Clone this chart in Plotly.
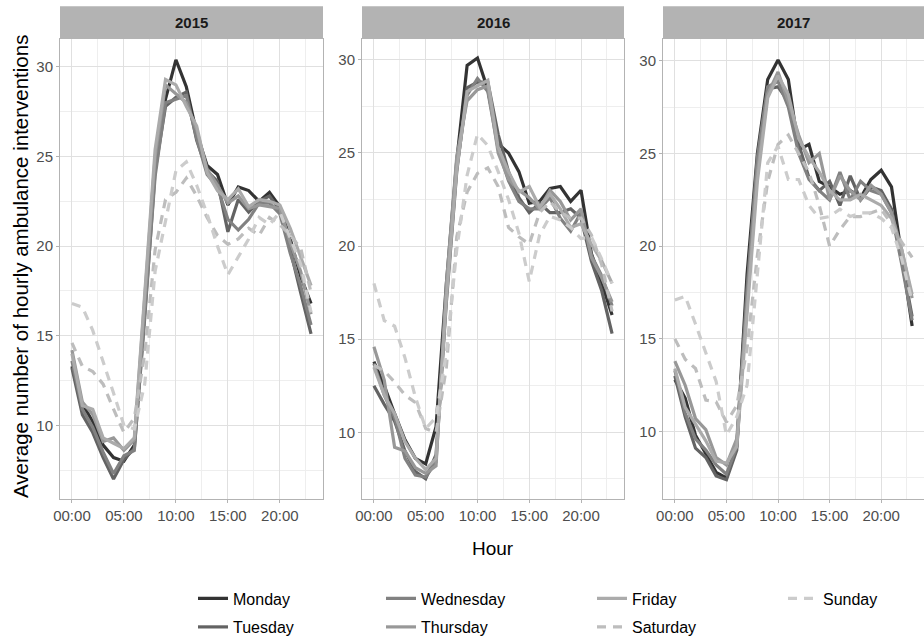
import plotly.graph_objects as go

# ---------------- data ----------------
hours = list(range(24))
hour_tick_vals = [0, 5, 10, 15, 20]
hour_tick_text = ["00:00", "05:00", "10:00", "15:00", "20:00"]
years = ["2015", "2016", "2017"]
days = ["Monday", "Tuesday", "Wednesday", "Thursday", "Friday", "Saturday", "Sunday"]

mon_2015 = [13.3, 11.2, 10.2, 8.9, 8.2, 8.0, 8.9, 16.5, 24.6, 28.2, 30.4, 28.9, 26.3, 24.5, 24.0, 22.3, 23.3, 23.1, 22.5, 23.0, 22.2, 20.4, 18.3, 16.8]
tue_2015 = [13.2, 10.6, 9.6, 8.2, 7.0, 8.1, 8.7, 16.0, 24.2, 27.8, 28.3, 28.6, 25.9, 24.2, 23.6, 20.8, 22.6, 21.9, 22.5, 22.8, 22.0, 19.8, 17.4, 15.1]
wed_2015 = [13.6, 10.9, 9.9, 8.5, 7.3, 8.3, 8.6, 16.2, 23.9, 28.0, 28.2, 28.4, 26.0, 24.0, 23.3, 21.5, 20.9, 21.5, 22.4, 22.4, 21.8, 19.6, 17.8, 15.6]
thu_2015 = [14.2, 11.3, 10.6, 9.1, 9.3, 8.6, 9.2, 17.0, 25.0, 29.0, 28.5, 28.0, 26.5, 24.3, 23.4, 22.4, 22.8, 22.1, 22.3, 22.2, 22.1, 20.2, 18.6, 16.2]
fri_2015 = [14.0, 11.1, 10.9, 9.3, 9.0, 8.7, 9.3, 17.4, 25.4, 29.3, 29.0, 27.8, 26.7, 24.1, 23.1, 22.6, 23.2, 22.2, 22.6, 22.5, 22.3, 21.0, 19.4, 17.8]
sat_2015 = [14.6, 13.3, 13.0, 12.3, 10.9, 9.6, 10.4, 14.0, 19.8, 22.6, 23.0, 23.8, 22.8, 21.6, 20.6, 20.1, 20.4, 21.0, 20.6, 21.6, 21.2, 20.6, 19.9, 17.4]
sun_2015 = [16.8, 16.6, 15.3, 13.6, 11.8, 10.0, 9.8, 12.3, 18.6, 21.4, 24.2, 24.7, 23.4, 21.8, 20.0, 18.4, 19.4, 20.4, 21.6, 21.2, 21.9, 20.5, 19.0, 16.3]

mon_2016 = [13.8, 12.5, 11.0, 9.6, 8.6, 8.3, 10.3, 18.0, 24.6, 29.7, 30.1, 28.4, 25.5, 25.0, 24.0, 22.3, 22.4, 23.1, 23.2, 22.4, 23.0, 19.6, 18.0, 16.3]
tue_2016 = [12.5, 11.5, 10.6, 9.0, 7.9, 7.5, 8.8, 17.0, 24.0, 28.5, 28.8, 28.8, 26.0, 24.0, 22.6, 21.8, 22.3, 21.8, 21.8, 22.0, 21.5, 19.2, 17.6, 15.3]
wed_2016 = [13.7, 12.0, 10.8, 8.6, 7.7, 7.6, 8.4, 17.4, 24.2, 28.1, 29.0, 28.3, 25.2, 23.5, 22.4, 22.0, 22.0, 22.6, 21.5, 20.8, 21.8, 19.5, 18.4, 16.8]
thu_2016 = [14.6, 12.8, 9.2, 9.0, 8.1, 7.8, 8.2, 18.0, 24.8, 27.8, 28.4, 28.6, 25.0, 23.6, 23.0, 22.6, 22.0, 23.0, 22.4, 21.4, 22.0, 19.4, 18.3, 17.0]
fri_2016 = [13.5, 12.0, 11.0, 9.5, 8.6, 8.0, 8.6, 17.2, 24.1, 28.3, 28.6, 28.9, 25.3, 24.0, 22.9, 23.2, 22.1, 22.8, 22.0, 21.0, 21.2, 20.1, 19.2, 18.0]
sat_2016 = [13.6, 13.3, 12.7, 12.0, 11.6, 10.2, 10.0, 13.5, 20.5, 22.9, 23.9, 24.2, 23.2, 21.0, 20.5, 20.1, 21.8, 22.4, 21.8, 21.5, 21.5, 20.6, 19.0, 16.5]
sun_2016 = [18.0, 16.0, 15.7, 14.0, 11.9, 10.2, 10.8, 14.3, 19.8, 23.8, 26.0, 25.4, 24.0, 22.5, 20.7, 18.1, 20.6, 21.6, 21.4, 21.0, 20.4, 20.5, 19.3, 18.0]

mon_2017 = [12.8, 11.8, 9.8, 8.8, 7.8, 7.5, 9.2, 18.5, 25.0, 29.0, 30.05, 29.0, 25.2, 25.5, 23.5, 23.2, 22.8, 23.0, 22.6, 23.6, 24.1, 23.2, 19.5, 15.7]
tue_2017 = [13.0, 10.8, 9.1, 8.6, 7.6, 7.4, 9.0, 17.8, 24.5, 28.5, 28.6, 27.8, 25.5, 23.7, 23.0, 23.5, 22.2, 23.8, 22.5, 23.2, 23.0, 22.0, 19.2, 16.2]
wed_2017 = [13.3, 11.0, 9.6, 9.0, 8.2, 7.7, 9.2, 17.5, 24.8, 28.6, 28.9, 27.5, 25.0, 23.6, 23.0, 22.5, 24.0, 22.5, 23.5, 23.0, 22.8, 21.8, 19.0, 16.0]
thu_2017 = [13.8, 12.5, 10.7, 10.1, 8.6, 8.2, 9.6, 17.0, 24.0, 28.2, 29.4, 27.8, 26.0, 24.5, 25.0, 22.5, 23.8, 23.0, 22.5, 23.3, 22.8, 21.8, 19.8, 17.2]
fri_2017 = [13.4, 11.3, 10.4, 9.5, 8.4, 8.3, 9.2, 16.5, 23.5, 28.0, 29.2, 28.2, 25.8, 24.8, 24.0, 23.0, 22.5, 22.5, 22.8, 22.5, 22.2, 21.5, 19.8, 17.4]
sat_2017 = [15.0, 13.9, 13.4, 11.7, 11.6, 10.5, 11.4, 14.5, 19.5, 23.5, 25.5, 26.0, 25.0, 24.0, 22.2, 20.0, 20.9, 21.6, 21.6, 21.8, 22.0, 21.2, 20.2, 19.4]
sun_2017 = [17.1, 17.3, 15.8, 14.2, 12.7, 9.8, 10.8, 12.5, 18.5, 24.5, 25.4, 23.6, 23.6, 22.2, 21.5, 21.6, 22.0, 21.6, 21.8, 21.8, 21.5, 21.0, 19.3, 17.0]

series = {
    "2015": [mon_2015, tue_2015, wed_2015, thu_2015, fri_2015, sat_2015, sun_2015],
    "2016": [mon_2016, tue_2016, wed_2016, thu_2016, fri_2016, sat_2016, sun_2016],
    "2017": [mon_2017, tue_2017, wed_2017, thu_2017, fri_2017, sat_2017, sun_2017],
}

# ---------------- styles ----------------
day_colors = ["#333333", "#636363", "#818181", "#989898", "#ABABAB", "#BDBDBD", "#CCCCCC"]
day_dash = ["solid"] * 5 + ["9px,7px", "9px,7px"]
# legend layout (ggplot-like: 2 rows, filled column by column)
legend_ids = ["legend", "legend2", "legend3", "legend4", "legend5", "legend6", "legend7"]
legend_text_x = [233, 233, 421, 421, 632, 632, 823]   # px where label text starts
legend_row_y = [601, 630, 601, 630, 601, 630, 601]    # px row centre

FONT = "Liberation Sans, Arial, sans-serif"
TICK_COLOR = "#4D4D4D"
BORDER = "#B3B3B3"
GRID_MAJOR = "#E0E0E0"
GRID_MINOR = "#EEEEEE"

# layout geometry (pixels -> paper)
W, H = 924, 644
ML, MR, MT, MB = 60, 0, 39, 143
PW = W - ML - MR
PH = H - MT - MB
panel_px = [(60, 323), (362, 624), (663, 924)]
domains = [[(a - ML) / PW, (b - ML) / PW] for a, b in panel_px]
y_ranges = [[5.89, 31.56], [6.42, 31.12], [6.36, 31.18]]
x_range = [-1.15, 24.15]

fig = go.Figure()

for p, year in enumerate(years):
    xa = "x" if p == 0 else f"x{p+1}"
    ya = "y" if p == 0 else f"y{p+1}"
    for d, day in enumerate(days):
        fig.add_trace(go.Scatter(
            x=hours, y=series[year][d], mode="lines", name=day,
            xaxis=xa, yaxis=ya,
            line=dict(color=day_colors[d], width=3.2, dash=day_dash[d]),
            legend=legend_ids[d],
            legendgroup=day, showlegend=(p == 0),
            hoverinfo="skip",
        ))

layout = dict(
    width=W, height=H,
    margin=dict(l=ML, r=MR, t=MT, b=MB, pad=0),
    paper_bgcolor="white", plot_bgcolor="white",
    font=dict(family=FONT, color="#000000"),
    showlegend=True,
)

for p in range(3):
    xkey = "xaxis" if p == 0 else f"xaxis{p+1}"
    ykey = "yaxis" if p == 0 else f"yaxis{p+1}"
    ya_name = "y" if p == 0 else f"y{p+1}"
    xa_name = "x" if p == 0 else f"x{p+1}"
    layout[xkey] = dict(
        domain=domains[p], anchor=ya_name, range=x_range,
        tickmode="array", tickvals=hour_tick_vals, ticktext=hour_tick_text,
        showgrid=True, gridcolor=GRID_MAJOR, gridwidth=1,
        minor=dict(tickmode="array", tickvals=[2.5, 7.5, 12.5, 17.5, 22.5],
                   showgrid=True, gridcolor=GRID_MINOR, gridwidth=0.7),
        showline=True, mirror=True, linecolor=BORDER, linewidth=1,
        ticks="outside", ticklen=3, tickcolor=BORDER, tickwidth=1,
        tickfont=dict(size=15, color=TICK_COLOR, family=FONT),
        zeroline=False, fixedrange=True,
    )
    layout[ykey] = dict(
        domain=[0, 1], anchor=xa_name, range=y_ranges[p],
        tick0=0, dtick=5,
        showgrid=True, gridcolor=GRID_MAJOR, gridwidth=1,
        minor=dict(tick0=0, dtick=2.5, showgrid=True, gridcolor=GRID_MINOR, gridwidth=0.7),
        showline=True, mirror=True, linecolor=BORDER, linewidth=1,
        ticks="outside", ticklen=3, tickcolor=BORDER, tickwidth=1,
        tickfont=dict(size=15, color=TICK_COLOR, family=FONT),
        zeroline=False, fixedrange=True,
    )

# strips
strip_top = (H - MB - 6) / PH  # 6px from page top
shapes = []
annotations = []
for p, year in enumerate(years):
    shapes.append(dict(type="rect", xref="paper", yref="paper",
                       x0=domains[p][0], x1=domains[p][1], y0=1.0, y1=strip_top,
                       fillcolor=BORDER, line=dict(width=0), layer="above"))
    annotations.append(dict(xref="paper", yref="paper",
                            x=(domains[p][0] + domains[p][1]) / 2, y=(1.0 + strip_top) / 2,
                            text=f"<b>{year}</b>", showarrow=False,
                            font=dict(size=15, color="#1A1A1A", family=FONT),
                            xanchor="center", yanchor="middle"))

# axis titles
annotations.append(dict(xref="paper", yref="paper",
                        x=(492.5 - ML) / PW, y=(H - MB - 551) / PH,
                        text="Hour", showarrow=False,
                        font=dict(size=19, color="#000000", family=FONT),
                        xanchor="center", yanchor="middle"))
annotations.append(dict(xref="paper", yref="paper",
                        x=(20 - ML) / PW, y=(H - MB - 268) / PH,
                        text="Average number of hourly ambulance interventions",
                        textangle=-90, showarrow=False,
                        font=dict(size=20.5, color="#000000", family=FONT),
                        xanchor="center", yanchor="middle"))

layout["shapes"] = shapes
layout["annotations"] = annotations

for d in range(len(days)):
    layout[legend_ids[d]] = dict(
        orientation="h", xanchor="left", yanchor="middle",
        x=(legend_text_x[d] - 40 - ML) / PW,
        y=(H - MB - legend_row_y[d]) / PH,
        font=dict(size=16, color="#000000", family=FONT),
        bgcolor="rgba(0,0,0,0)", borderwidth=0,
    )

fig.update_layout(**layout)
fig.write_html("out.html")
